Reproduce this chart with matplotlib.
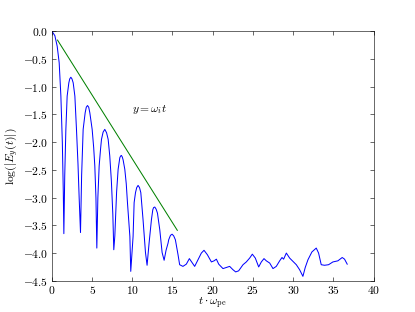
import numpy as np
import matplotlib
matplotlib.use('Agg')
from matplotlib import pyplot as plt

plt.rcParams['font.family'] = 'serif'
plt.rcParams['font.serif'] = ['cmr10']
plt.rcParams['mathtext.fontset'] = 'cm'
plt.rcParams['axes.formatter.use_mathtext'] = True
plt.rcParams['font.size'] = 16
plt.rcParams['xtick.direction'] = 'in'
plt.rcParams['ytick.direction'] = 'in'
plt.rcParams['xtick.top'] = True
plt.rcParams['ytick.right'] = True
plt.rcParams['xtick.major.size'] = 5
plt.rcParams['ytick.major.size'] = 5
plt.rcParams['xtick.major.pad'] = 4
plt.rcParams['ytick.major.pad'] = 5

# log|E_y(t)|
t = [0.0, 0.37, 0.66, 0.91, 1.12, 1.3, 1.42, 1.49,
     1.6, 1.74, 1.9, 2.11, 2.22, 2.36, 2.5, 2.65, 2.86, 3.06, 3.25, 3.4, 3.56,
     3.7, 3.89, 4.14, 4.28, 4.43, 4.58, 4.72, 5.01, 5.2, 5.34, 5.48, 5.59,
     5.72, 5.88, 6.05, 6.17, 6.37, 6.58, 6.8, 7.0, 7.2, 7.4, 7.58, 7.7,
     7.83, 8.05, 8.24, 8.45, 8.55, 8.65, 8.76, 8.86, 9.07, 9.25, 9.4, 9.7, 9.81,
     10.0, 10.1, 10.23, 10.4, 10.55, 10.72, 10.9, 11.06, 11.34, 11.64, 11.84,
     12.09, 12.38, 12.55, 12.65, 12.8, 12.97, 13.13, 13.42, 13.71, 13.96,
     14.2, 14.45, 14.53, 14.75, 14.95, 15.15, 15.36, 15.69, 15.89,
     16.3, 16.72, 17.1, 17.47, 17.76, 18.18, 18.59, 18.92, 19.34, 19.84,
     20.17, 20.46, 20.75, 21.28, 21.7, 22.11, 22.52, 22.86, 23.23, 23.77,
     24.18, 24.6, 24.93, 25.3, 25.72, 26.05, 26.38, 26.67, 27.09, 27.5,
     27.91, 28.33, 28.62, 28.82, 29.16, 29.57, 29.98, 30.4, 30.81, 31.22,
     31.51, 31.85, 32.34, 32.88, 33.17, 33.5, 33.91, 34.41, 34.95, 35.57,
     36.11, 36.4, 36.73]
logE = [0.0, -0.08, -0.27, -0.57, -1.17, -2.0, -2.9, -3.65,
        -2.6, -1.77, -1.17, -0.93, -0.86, -0.83, -0.86, -0.93, -1.17, -1.77, -2.4, -3.03, -3.63,
        -2.6, -1.77, -1.47, -1.37, -1.34, -1.37, -1.47, -1.77, -2.1, -2.43, -3.0, -3.91,
        -3.0, -2.43, -2.13, -1.95, -1.82, -1.77, -1.83, -1.95, -2.25, -2.7, -3.3, -3.94,
        -3.69, -2.9, -2.49, -2.28, -2.25, -2.24, -2.27, -2.32, -2.49, -2.75, -3.09, -3.7, -4.33,
        -3.9, -3.7, -3.09, -2.91, -2.82, -2.78, -2.82, -2.91, -3.4, -3.99, -4.22,
        -3.82, -3.4, -3.22, -3.18, -3.17, -3.21, -3.28, -3.58, -3.99, -4.13,
        -3.95, -3.82, -3.76, -3.68, -3.66, -3.69, -3.76, -4.03, -4.21,
        -4.24, -4.2, -4.1, -4.18, -4.24, -4.12, -4.0, -3.95, -4.03, -4.16,
        -4.14, -4.11, -4.2, -4.28, -4.26, -4.24, -4.3, -4.34, -4.32, -4.21,
        -4.16, -4.09, -4.02, -4.09, -4.25, -4.16, -4.1, -4.14, -4.18, -4.28,
        -4.24, -4.14, -4.08, -4.11, -4.0, -4.09, -4.15, -4.21, -4.3, -4.42,
        -4.26, -4.12, -3.98, -3.91, -4.0, -4.21, -4.22, -4.21, -4.16, -4.14,
        -4.08, -4.11, -4.2]

# growth-rate fit line
fit_t = [0.7, 15.6]
fit_y = [-0.16, -3.59]

fig = plt.figure(figsize=(415 / 52, 6), dpi=52)
ax = fig.add_subplot(111)
fig.subplots_adjust(left=0.125, right=0.9, bottom=0.1, top=0.9)

ax.plot(t, logE, color='b', lw=1.4)
ax.plot(fit_t, fit_y, color='g', lw=1.4)
ax.text(12.2, -1.41, r'$y=\omega_i t$', ha='center', va='center')

ax.set_xlim(0, 40)
ax.set_ylim(-4.5, 0)
ax.set_xticks(np.arange(0, 41, 5))
ax.set_yticks(np.arange(-4.5, 0.01, 0.5))
ax.set_xlabel(r'$t\cdot\omega_{\rm pe}$', labelpad=0)
ax.set_ylabel(r'$\log(|E_y(t)|)$')

fig.savefig('out.png', dpi=52)
